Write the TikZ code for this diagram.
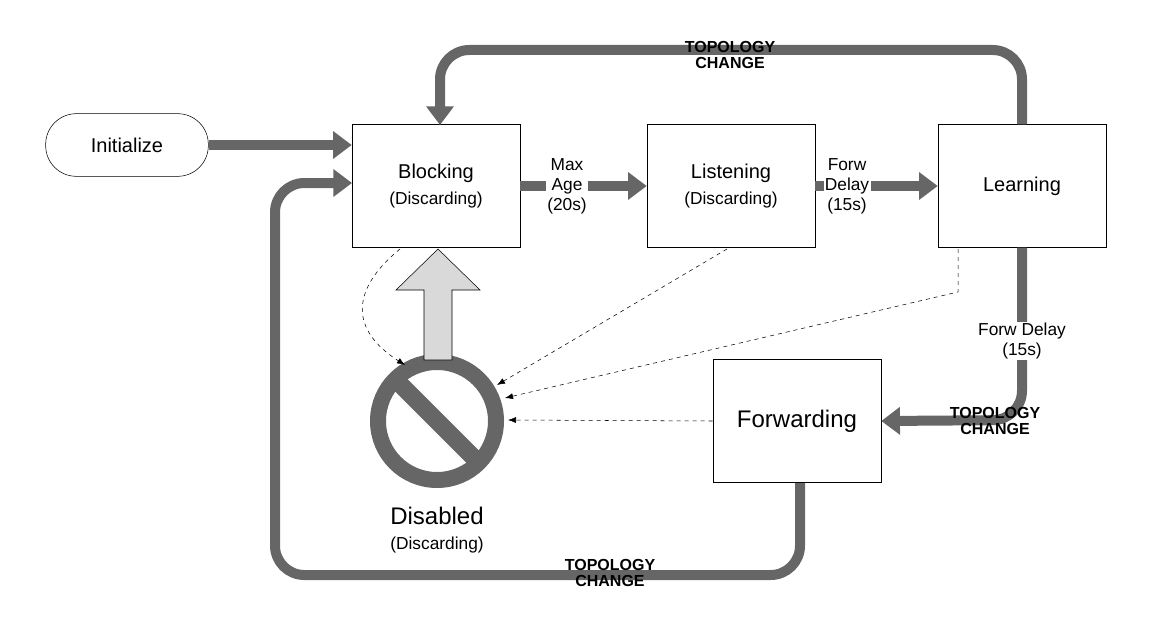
\documentclass[tikz,border=0pt]{standalone}
\usepackage{fontspec}
\setmainfont{Liberation Sans}
\usetikzlibrary{arrows.meta,calc}
\definecolor{dg}{HTML}{666666}
\definecolor{lg}{HTML}{D9D9D9}
\begin{document}
\begin{tikzpicture}[x=0.75pt,y=-0.75pt,
 box/.style={draw,thin,minimum width=126pt,minimum height=92pt,inner sep=0pt,align=center,font=\fontsize{15}{17}\selectfont},
 thick arrow/.style={draw=dg,line width=7.5pt,rounded corners=22pt,-{Triangle[length=14pt,width=20pt]}},
 dashconn/.style={draw,dashed,thin,-{Latex[length=6pt]}},
 tc/.style={font=\bfseries\fontsize{12}{12.5}\selectfont,align=center,inner sep=0pt},
 lbl/.style={fill=white,align=center,font=\fontsize{13}{15}\selectfont,inner sep=1pt}]
\useasboundingbox (0,0) rectangle (1151,617);
\node[draw,thin,rounded corners=23pt,minimum width=122pt,minimum height=47pt,font=\fontsize{15}{17}\selectfont] (init) at (127,145) {Initialize};
\node[box] (blk) at (436,186) {Blocking\\[2pt]{\fontsize{13}{15}\selectfont(Discarding)}};
\node[box] (lis) at (731,186) {Listening\\[2pt]{\fontsize{13}{15}\selectfont(Discarding)}};
\node[box] (lrn) at (1022,186) {Learning};
\node[box,font=\fontsize{18}{20}\selectfont] (fwd) at (797,421) {Forwarding};
% disabled symbol
\coordinate (dis) at (437,421);
\draw[dg,line width=12pt] (dis) circle[radius=59];
\draw[dg,line width=13pt] ($(dis)+(-42,-42)$) -- ($(dis)+(42,42)$);
\node[font=\fontsize{18}{20}\selectfont] (dtxt) at (437,516) {Disabled};
\node[font=\fontsize{13}{15}\selectfont] (dtxt2) at (437,545) {(Discarding)};
% up arrow
\draw[thin,fill=lg] (424,360) -- (424,290) -- (396,290) -- (438,249) -- (480,290) -- (452,290) -- (452,360) -- cycle;
% thick arrows
\draw[thick arrow] (init.east) -- (blk.west |- init.east);
\draw[thick arrow] (blk.east) -- (lis.west);
\draw[thick arrow] (lis.east) -- (lrn.west);
\draw[thick arrow] (lrn.north) -- (1022,50) -- (440,50) -- (440,125);
\draw[thick arrow] (lrn.south) -- (1022,420) -- (fwd.east);
\draw[thick arrow] (800,483) -- (800,575) -- (275,575) -- (275,183) -- (352,183);
\node[lbl] at (567,186) {Max\\Age\\(20s)};
\node[lbl] at (847,186) {Forw\\Delay\\(15s)};
\node[lbl] at (1022,341) {Forw Delay\\(15s)};
\node[tc] at (730,55) {TOPOLOGY\\CHANGE};
\node[tc] at (995,421) {TOPOLOGY\\CHANGE};
\node[tc] at (610,573) {TOPOLOGY\\CHANGE};
% dashed
\draw[dashconn] (400,249) .. controls (350,290) and (350,330) .. (405,365);
\draw[dashconn] (727,249) -- (497,385);
\draw[dashconn] (958,249) -- (958,292) -- (505,398);
\draw[dashconn] (fwd.west) -- (508,420);
\end{tikzpicture}
\end{document}
